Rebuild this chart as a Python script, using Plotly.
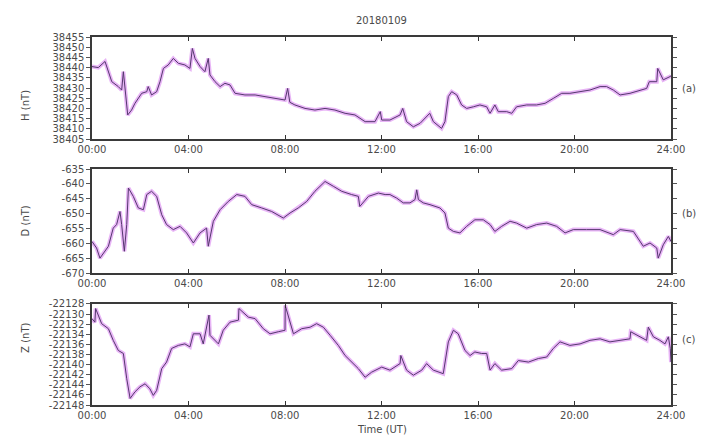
import plotly.graph_objects as go

# ---------------- data (hours UT, nT) ----------------
h_time = [0.0, 0.26, 0.54, 0.82, 1.09, 1.23, 1.30, 1.37, 1.48, 1.64, 1.78, 2.06, 2.27, 2.33, 2.47, 2.68,
          2.82, 2.96, 3.16, 3.37, 3.58, 3.85, 4.06, 4.16, 4.27, 4.48, 4.68, 4.82, 4.89, 5.10, 5.31, 5.51,
          5.72, 5.93, 6.34, 6.76, 7.17, 7.59, 8.0, 8.11, 8.2, 8.41, 8.83, 9.24, 9.66, 10.07, 10.49, 10.90,
          11.32, 11.73, 11.95, 12.01, 12.35, 12.77, 12.88, 13.04, 13.32, 13.60, 13.87, 14.0, 14.15, 14.49,
          14.63, 14.77, 14.91, 15.12, 15.32, 15.53, 15.81, 16.08, 16.36, 16.50, 16.70, 16.84, 17.19, 17.40,
          17.60, 18.02, 18.43, 18.78, 19.12, 19.47, 19.81, 20.23, 20.64, 21.06, 21.33, 21.61, 21.89, 22.30,
          22.72, 22.99, 23.1, 23.41, 23.45, 23.68, 23.96, 24.0]
h_vals = [38440.5, 38440.0, 38443.0, 38433.1, 38430.7, 38429.0, 38438.0, 38428.2, 38416.8, 38419.2, 38422.5,
          38427.4, 38428.2, 38430.7, 38426.6, 38428.2, 38433.1, 38439.6, 38441.3, 38444.5, 38442.1, 38441.3,
          38439.6, 38449.4, 38444.5, 38440.5, 38438.0, 38444.5, 38436.4, 38433.1, 38430.7, 38432.3, 38431.5,
          38427.4, 38426.6, 38426.6, 38425.8, 38424.9, 38424.1, 38429.8, 38423.0, 38421.7, 38420.0, 38419.2,
          38420.0, 38419.2, 38417.6, 38416.8, 38413.5, 38413.5, 38418.4, 38414.3, 38414.3, 38416.8, 38420.0,
          38413.5, 38411.0, 38412.7, 38415.9, 38417.6, 38413.5, 38410.2, 38413.5, 38425.8, 38428.2, 38426.6,
          38421.7, 38420.0, 38420.8, 38421.7, 38420.8, 38417.6, 38421.7, 38418.4, 38418.4, 38417.6, 38420.8,
          38421.7, 38421.7, 38422.5, 38424.9, 38427.4, 38427.4, 38428.2, 38429.0, 38430.7, 38430.7, 38429.0,
          38426.6, 38427.4, 38429.0, 38429.8, 38433.1, 38433.1, 38439.6, 38434.0, 38435.6, 38436.0]

d_time = [0.0, 0.19, 0.33, 0.47, 0.68, 0.88, 1.02, 1.16, 1.23, 1.34, 1.44, 1.51, 1.71, 1.92, 2.13, 2.27,
          2.47, 2.68, 2.89, 3.09, 3.37, 3.65, 3.92, 4.20, 4.48, 4.75, 4.82, 5.03, 5.31, 5.65, 6.0, 6.34,
          6.62, 7.03, 7.45, 7.93, 8.21, 8.55, 8.90, 9.24, 9.66, 10.0, 10.35, 10.76, 11.04, 11.1, 11.46,
          11.87, 12.15, 12.35, 12.63, 12.9, 13.18, 13.39, 13.46, 13.53, 13.73, 14.01, 14.42, 14.63, 14.77,
          14.98, 15.25, 15.53, 15.87, 16.22, 16.50, 16.70, 16.98, 17.33, 17.60, 18.02, 18.43, 18.85, 19.26,
          19.61, 19.95, 20.50, 21.06, 21.61, 21.89, 22.44, 22.85, 23.13, 23.41, 23.47, 23.68, 23.89, 24.0]
d_vals = [-659.4, -661.6, -665.0, -663.3, -661.0, -654.9, -653.7, -649.3, -653.7, -662.7, -653.7, -641.4,
          -644.2, -648.1, -648.7, -643.6, -642.5, -644.2, -650.4, -653.7, -655.4, -654.3, -656.5, -659.9,
          -656.5, -654.9, -661.0, -652.6, -648.7, -645.9, -643.6, -644.2, -647.0, -648.1, -649.3, -651.5,
          -649.8, -648.1, -645.9, -642.5, -639.2, -640.8, -642.5, -643.6, -644.2, -647.6, -644.2, -643.1,
          -643.6, -643.6, -644.8, -646.4, -646.4, -645.3, -642.0, -645.3, -646.4, -647.0, -648.1, -649.8,
          -654.9, -656.0, -656.5, -654.3, -652.1, -652.1, -653.7, -656.0, -654.3, -652.6, -653.2, -654.9,
          -653.7, -653.2, -654.3, -656.5, -655.4, -655.4, -655.4, -657.1, -655.4, -656.0, -661.0, -659.9,
          -661.6, -665.0, -660.5, -657.7, -659.4]

z_time = [0.0, 0.12, 0.15, 0.40, 0.68, 0.88, 1.09, 1.30, 1.44, 1.58, 1.78, 1.99, 2.20, 2.40, 2.54, 2.68,
          2.89, 3.09, 3.30, 3.58, 3.85, 4.06, 4.20, 4.48, 4.61, 4.85, 4.89, 5.03, 5.24, 5.44, 5.72, 6.07,
          6.09, 6.48, 6.76, 7.10, 7.38, 7.72, 8.0, 8.01, 8.35, 8.69, 9.04, 9.31, 9.59, 9.87, 10.21, 10.49,
          10.76, 11.04, 11.32, 11.59, 12.01, 12.35, 12.77, 12.8, 13.04, 13.32, 13.67, 13.87, 14.15, 14.56,
          14.77, 14.98, 15.18, 15.46, 15.67, 15.87, 16.15, 16.36, 16.50, 16.70, 16.98, 17.40, 17.67, 18.09,
          18.50, 18.85, 19.12, 19.40, 19.81, 20.23, 20.64, 21.06, 21.47, 21.89, 22.30, 22.33, 22.72, 22.99,
          23.06, 23.27, 23.54, 23.75, 23.89, 23.97, 24.0]
z_vals = [-22130.9, -22131.6, -22128.9, -22131.9, -22132.9, -22135.2, -22137.2, -22137.8, -22142.8,
          -22146.7, -22145.4, -22144.4, -22143.8, -22144.8, -22146.1, -22145.1, -22140.8, -22139.5,
          -22136.8, -22136.2, -22135.9, -22136.5, -22133.9, -22133.9, -22135.9, -22130.2, -22134.2,
          -22134.9, -22135.9, -22133.2, -22131.6, -22131.2, -22128.9, -22130.6, -22130.9, -22132.9,
          -22133.9, -22133.5, -22133.2, -22128.3, -22133.9, -22132.9, -22132.6, -22131.9, -22132.6,
          -22134.2, -22136.2, -22138.2, -22139.5, -22140.8, -22142.5, -22141.5, -22140.5, -22141.1,
          -22139.8, -22138.2, -22141.1, -22142.1, -22141.1, -22139.8, -22141.1, -22141.8, -22135.5,
          -22133.2, -22133.9, -22137.2, -22138.2, -22137.5, -22137.8, -22137.8, -22141.1, -22139.8,
          -22141.1, -22140.8, -22139.2, -22139.5, -22138.8, -22138.5, -22136.8, -22135.5, -22136.2,
          -22135.9, -22135.2, -22134.9, -22135.5, -22135.2, -22134.9, -22133.5, -22134.5, -22135.2,
          -22132.6, -22134.5, -22135.2, -22135.9, -22134.5, -22136.8, -22139.5]

x_ticks = [0, 4, 8, 12, 16, 20, 24]
x_tick_labels = ["00:00", "04:00", "08:00", "12:00", "16:00", "20:00", "24:00"]
h_ticks = list(range(38405, 38456, 5))
d_ticks = list(range(-670, -634, 5))
z_ticks = list(range(-22148, -22127, 2))

title_text = "20180109"
y_titles = ["H (nT)", "D (nT)", "Z (nT)"]
panel_tags = ["(a)", "(b)", "(c)"]
x_title = "Time (UT)"

# ---------------- figure ----------------
FONT = "DejaVu Sans"
TXT = "#4a4a4a"
fig = go.Figure()

panels = [(h_time, h_vals, h_ticks, [38405, 38455]),
          (d_time, d_vals, d_ticks, [-670, -635]),
          (z_time, z_vals, z_ticks, [-22148, -22128])]
domains = [[0.7228, 1.0], [0.3587, 0.6413], [0.0, 0.2745]]

for i, (t, v, yt, yr) in enumerate(panels):
    n = "" if i == 0 else str(i + 1)
    fig.add_trace(go.Scatter(x=t, y=v, mode="lines", xaxis="x" + n, yaxis="y" + n,
                             line=dict(color="rgba(205,90,235,0.45)", width=4), hoverinfo="skip",
                             showlegend=False))
    fig.add_trace(go.Scatter(x=t, y=v, mode="lines", xaxis="x" + n, yaxis="y" + n,
                             line=dict(color="#55386e", width=1), showlegend=False))
    fig.layout["xaxis" + n] = dict(domain=[0, 1], anchor="y" + n, range=[0, 24],
                                   tickvals=x_ticks, ticktext=x_tick_labels, ticks="inside", ticklen=4,
                                   tickcolor="#333", showline=True, linecolor="#3a3a3a", linewidth=1.5,
                                   mirror="ticks", showgrid=False, zeroline=False,
                                   tickfont=dict(family=FONT, size=10, color=TXT))
    fig.layout["yaxis" + n] = dict(domain=domains[i], anchor="x" + n, range=yr, tickvals=yt,
                                   ticktext=[str(k) for k in yt],
                                   ticks="outside", ticklen=4, tickcolor="#555", showline=True,
                                   linecolor="#3a3a3a", linewidth=1.5, mirror="ticks", showgrid=False,
                                   zeroline=False, tickfont=dict(family=FONT, size=10, color=TXT))

ann = [dict(text=title_text, x=0.5, y=1.065, xref="paper", yref="paper", showarrow=False,
            font=dict(family=FONT, size=10, color=TXT)),
       dict(text=x_title, x=0.5, y=-0.087, xref="paper", yref="paper", showarrow=False,
            font=dict(family=FONT, size=10, color=TXT))]
ycent = [(d[0] + d[1]) / 2 for d in domains]
for i in range(3):
    ann.append(dict(text=y_titles[i], x=-0.128, y=ycent[i], xref="paper", yref="paper",
                    showarrow=False, textangle=-90, font=dict(family=FONT, size=10, color=TXT)))
    ann.append(dict(text=panel_tags[i], x=1.016, y=ycent[i] + 0.02, xref="paper", yref="paper",
                    showarrow=False, xanchor="left", font=dict(family=FONT, size=10, color=TXT)))

# page body has an 8px margin, so the figure is 8px smaller to land on the same pixels
fig.update_layout(width=697, height=437, margin=dict(l=84, r=34, t=29, b=40),
                  paper_bgcolor="white", plot_bgcolor="white", annotations=ann)

fig.write_html("out.html")
